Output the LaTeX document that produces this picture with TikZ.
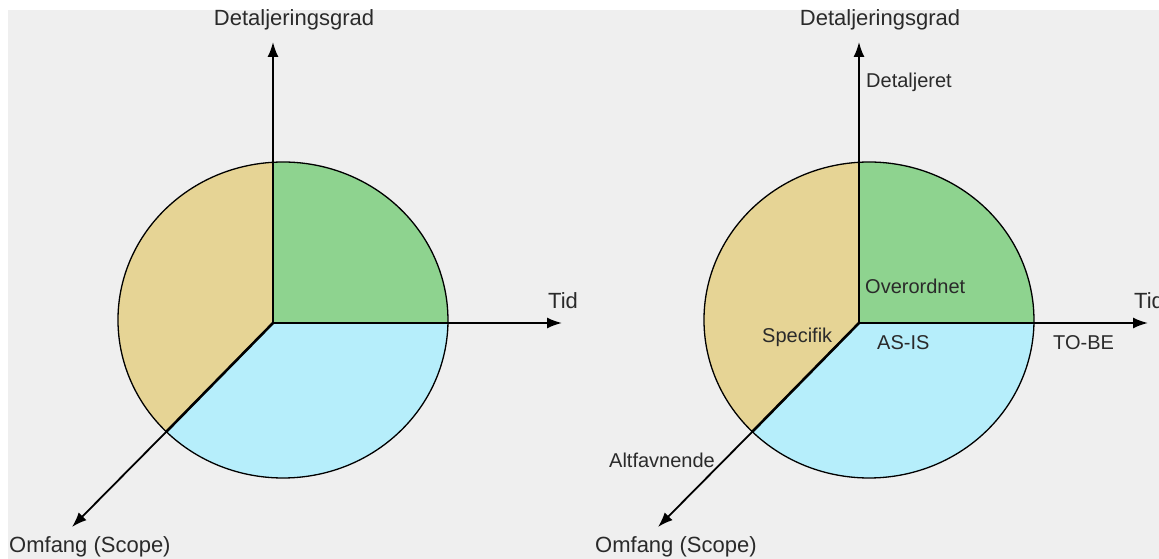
\documentclass[tikz,border=0pt]{standalone}
\usepackage{fontspec}
\setmainfont{Liberation Sans}
\usetikzlibrary{arrows.meta}

\definecolor{bgcol}{HTML}{EFEFEF}
\definecolor{tancol}{HTML}{E6D495}
\definecolor{greencol}{HTML}{8ED38F}
\definecolor{cyancol}{HTML}{B6EEFB}
\definecolor{inkcol}{HTML}{2A2A2A}

\tikzset{
  axis/.style={line width=1.8pt, -{Latex[length=15pt,width=11pt]}},
  rim/.style={line width=1.3pt},
  divider/.style={line width=2.6pt, line cap=round},
  axlabel/.style={text=inkcol, font=\fontsize{22}{26}\selectfont, inner sep=0pt},
  inlabel/.style={text=inkcol, font=\fontsize{20}{24}\selectfont, inner sep=0pt},
}

\begin{document}
\begin{tikzpicture}[x=1pt,y=1pt]
  \fill[white] (0,0) rectangle (1159,559);
  \fill[bgcol] (8,0) rectangle (1159,549);
  \useasboundingbox (0,0) rectangle (1159,559);

  % same chart twice, the second one with extra labels
  \foreach \p/\dx in {a/0, b/586} {
    \begin{scope}[xshift=\dx pt]
      \coordinate (\p-o) at (273,236);
      \coordinate (\p-top) at (273,396.71);
      \coordinate (\p-right) at (447.97,236);
      \coordinate (\p-diag) at (166.33,127.28);
      \coordinate (\p-ytip) at (273,517);
      \coordinate (\p-xtip) at (562,236);
      \coordinate (\p-ztip) at (72,32);

      \filldraw[fill=greencol, rim] (\p-o) -- (\p-top)
        arc[start angle=93.47, end angle=-1.09, x radius=165pt, y radius=158pt] -- cycle;
      \filldraw[fill=tancol, rim] (\p-o) -- (\p-top)
        arc[start angle=93.47, end angle=225, x radius=165pt, y radius=158pt] -- cycle;
      \filldraw[fill=cyancol, rim] (\p-o) -- (\p-diag)
        arc[start angle=225, end angle=358.91, x radius=165pt, y radius=158pt] -- cycle;

      \draw[divider] (\p-top) -- (\p-o) -- (\p-right);
      \draw[divider] (\p-o) -- (\p-diag);

      \draw[axis] (\p-top) -- (\p-ytip);
      \draw[axis] (\p-right) -- (\p-xtip);
      \draw[axis] (\p-diag) -- (\p-ztip);

      \node[axlabel] (\p-ylab) at (294,539) {Detaljeringsgrad};
      \node[axlabel, anchor=west] (\p-xlab) at (548,258) {Tid};
      \node[axlabel, anchor=west] (\p-zlab) at (9,12) {Omfang (Scope)};
    \end{scope}
  }

  \node[inlabel, anchor=west] (detaljeret) at (866,477) {Detaljeret};
  \node[inlabel, anchor=west] (overordnet) at (865,273) {Overordnet};
  \node[inlabel, anchor=west] (specifik) at (762,222) {Specifik};
  \node[inlabel, anchor=west] (asis) at (877,216) {AS-IS};
  \node[inlabel, anchor=west] (tobe) at (1053,216) {TO-BE};
  \node[inlabel, anchor=west] (altfavnende) at (609,99) {Altfavnende};
\end{tikzpicture}
\end{document}
